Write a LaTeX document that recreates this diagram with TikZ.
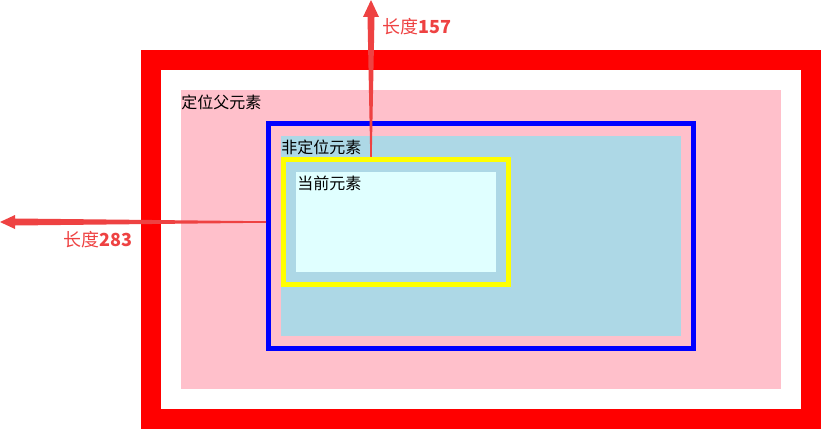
\documentclass[tikz,border=0pt]{standalone}
\usepackage{fontspec}
\setmainfont{Noto Sans CJK SC}
\usetikzlibrary{calc}
\definecolor{outerred}{RGB}{255,0,0}
\definecolor{pinkc}{RGB}{255,192,203}
\definecolor{bluec}{RGB}{0,0,255}
\definecolor{lbluec}{RGB}{173,216,230}
\definecolor{yellowc}{RGB}{255,255,0}
\definecolor{lcyanc}{RGB}{224,255,255}
\definecolor{arrowc}{RGB}{238,66,66}
\tikzset{
  boxbase/.style={rectangle, inner sep=0pt, outer sep=0pt},
  lbl/.style={anchor=west, inner sep=0pt, font=\fontsize{12pt}{14pt}\selectfont, text=black},
  measure/.style={anchor=west, inner sep=0pt, font=\fontsize{13.5pt}{16pt}\selectfont, text=arrowc},
  arrowshape/.style={fill=arrowc, draw=none}
}
\begin{document}
\begin{tikzpicture}[x=0.75pt, y=-0.75pt]
\useasboundingbox (0,0) rectangle (830,445);
% outer red box
\node[boxbase, draw=outerred, line width=15pt, minimum width=495pt, minimum height=269.25pt] (outer) at (481,239.5) {};
% pink positioned parent
\node[boxbase, fill=pinkc, minimum width=450pt, minimum height=224.25pt] (parent) at (481,239.5) {};
% blue border box
\node[boxbase, draw=bluec, line width=3.75pt, minimum width=318.75pt, minimum height=168.75pt] (blue) at (481,236) {};
% light blue non-positioned element
\node[boxbase, fill=lbluec, minimum width=300pt, minimum height=150pt] (nonpos) at (481,236) {};
% yellow border box
\node[boxbase, draw=yellowc, line width=3.75pt, minimum width=168.75pt, minimum height=93.75pt] (yellow) at (396,222) {};
% current element
\node[boxbase, fill=lcyanc, minimum width=150pt, minimum height=75pt] (current) at (396,222) {};
% labels
\node[lbl] (tparent) at (181,102.5) {定位父元素};
\node[lbl] (tnonpos) at (281,147) {非定位元素};
\node[lbl] (tcurrent) at (297,183.5) {当前元素};
% vertical arrow
\coordinate (vs) at (371,157);
\coordinate (ve) at (371,0);
\fill[arrowshape] ($(vs)+(-0.75,0)$) -- ($(ve)+(-3.5,17)$) -- ($(ve)+(-8,17)$) -- (ve) -- ($(ve)+(8,17)$) -- ($(ve)+(3.5,17)$) -- ($(vs)+(0.75,0)$) -- cycle;
\node[measure] (m157) at (382,27) {长度\textbf{157}};
% horizontal arrow
\coordinate (hs) at (266,222);
\coordinate (he) at (0,222);
\fill[arrowshape] ($(hs)+(0,-0.75)$) -- ($(he)+(15,-3.5)$) -- ($(he)+(15,-7)$) -- (he) -- ($(he)+(15,7)$) -- ($(he)+(15,3.5)$) -- ($(hs)+(0,0.75)$) -- cycle;
\node[measure] (m283) at (63,240) {长度\textbf{283}};
\end{tikzpicture}
\end{document}
